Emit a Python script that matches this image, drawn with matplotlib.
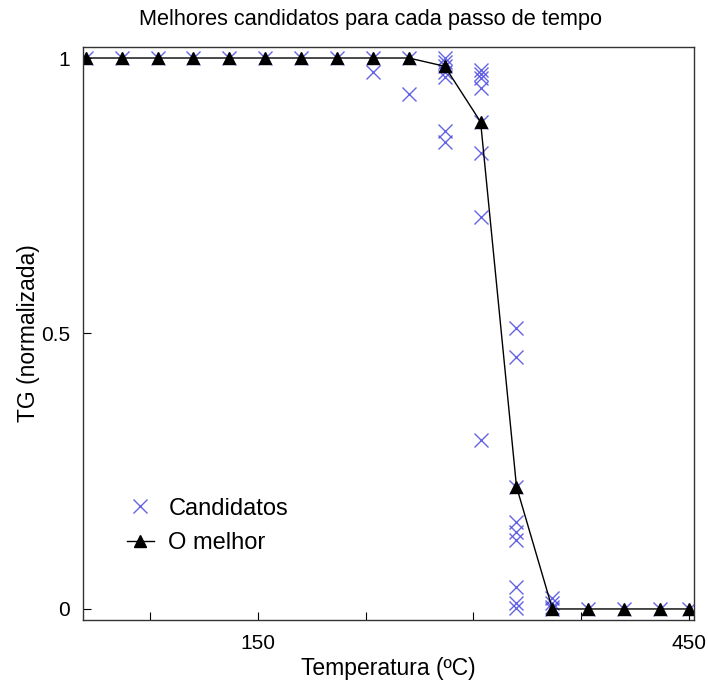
import matplotlib
matplotlib.use("Agg")
import matplotlib.pyplot as plt
from matplotlib.ticker import FixedLocator, FixedFormatter

plt.rcParams["font.family"] = ["Liberation Sans", "DejaVu Sans"]

# time steps (temperature, ºC)
temps = [30, 55, 80, 105, 130, 155, 180, 205, 230, 255, 280,
         305, 330, 355, 380, 405, 430, 450]

# best candidate at each step
best = [1, 1, 1, 1, 1, 1, 1, 1, 1, 1, 0.985,
        0.884, 0.222, 0, 0, 0, 0, 0]

# all candidates evaluated at each step
candidates = {
    30: [1],
    55: [1],
    80: [1],
    105: [1],
    130: [1],
    155: [1],
    180: [1],
    205: [1],
    230: [1, 0.975],
    255: [1, 0.935],
    280: [1.0, 0.993, 0.985, 0.975, 0.965, 0.867, 0.847],
    305: [0.978, 0.971, 0.964, 0.946, 0.884, 0.828, 0.711, 0.307],
    330: [0.51, 0.457, 0.222, 0.158, 0.14, 0.125, 0.04, 0.011, 0.002],
    355: [0.02, 0.011, 0.004, 0],
    380: [0],
    405: [0],
    430: [0],
    450: [0],
}

cand_x = [t for t, vals in candidates.items() for _ in vals]
cand_y = [v for vals in candidates.values() for v in vals]

fig = plt.figure(figsize=(7.08, 6.81), dpi=100)
ax = fig.add_axes([0.117, 0.0896, 0.863, 0.8414])

ax.plot(cand_x, cand_y, linestyle="none", marker="x", markersize=10,
        markeredgewidth=1.0, color="#4a4ae0", alpha=0.85, label="Candidatos")
ax.plot(temps, best, color="black", linewidth=1.0, marker="^",
        markersize=9, label="O melhor")

ax.set_xlim(28, 453.5)
ax.set_ylim(-0.02, 1.02)

ax.xaxis.set_major_locator(FixedLocator([75, 150, 225, 300, 375, 450]))
ax.xaxis.set_major_formatter(FixedFormatter(["", "150", "", "", "", "450"]))
ax.set_yticks([0, 0.5, 1])
ax.set_yticklabels(["0", "0.5", "1"])
ax.tick_params(direction="in", length=6, width=0.8, labelsize=15)
ax.tick_params(axis="x", pad=10)
ax.tick_params(axis="y", pad=9)

for s in ax.spines.values():
    s.set_linewidth(1.0)
    s.set_color("#333333")

ax.set_title("Melhores candidatos para cada passo de tempo", fontsize=15.7,
             pad=16, x=0.47)
ax.set_xlabel("Temperatura (ºC)", fontsize=16.5, labelpad=3)
ax.set_ylabel("TG (normalizada)", fontsize=16.5, labelpad=1)

ax.legend(loc="lower left", bbox_to_anchor=(0.037, 0.078), frameon=False,
          fontsize=17, handlelength=1.15, handletextpad=0.62, labelspacing=0.53)

fig.savefig("out.png", dpi=100)
